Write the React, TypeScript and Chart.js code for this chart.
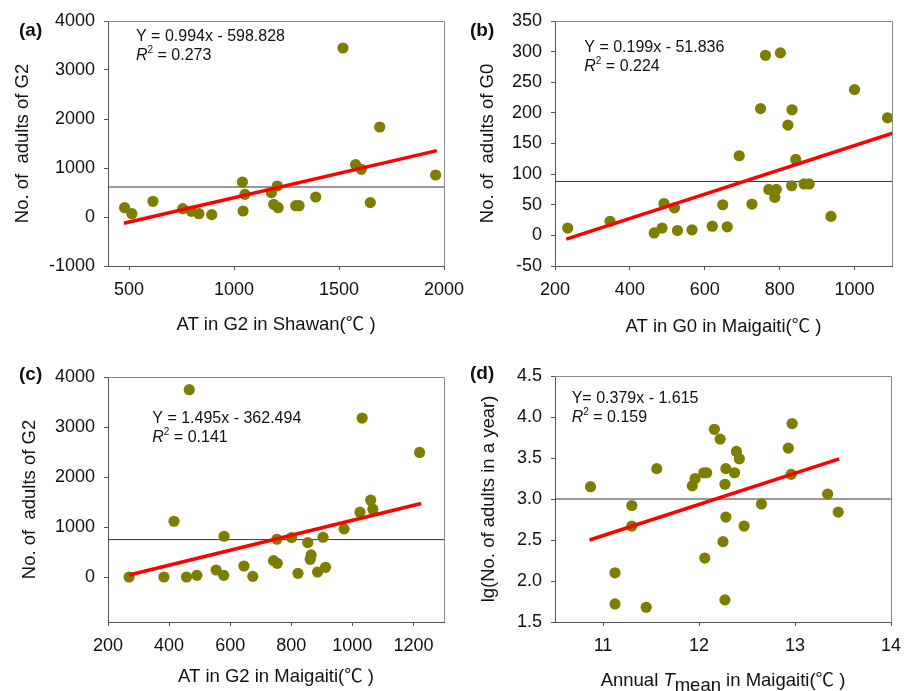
import React, { useEffect, useRef } from 'react';
import { Chart, registerables } from 'chart.js';

Chart.register(...registerables);

const W = 912;
const H = 691;
const FONT = "'Liberation Sans', Arial, Helvetica, 'Noto Sans CJK SC', sans-serif";
const TEXT = '#111111';
const AXIS = '#555555';
const FRAME = '#8a8a8a';
const DOT = '#7d7d00';
const FIT = '#ff0000';
const MEAN = '#333333';

// ---------- Panel (a) ----------
const aX = [479, 514, 614, 756, 797, 833, 894, 1040, 1043, 1052, 1178, 1189, 1210, 1206, 1294, 1310, 1389, 1519, 1579, 1606, 1649, 1694, 1960];
const aY = [190, 68, 320, 170, 116, 68, 48, 714, 122, 462, 497, 258, 190, 633, 231, 231, 408, 3449, 1068, 973, 293, 1837, 857];
const aFitX = [476, 1966];
const aFitY = [-126, 1355];
const aMean = 612;
const aXTicks = [500, 1000, 1500, 2000];
const aYTicks = [-1000, 0, 1000, 2000, 3000, 4000];

// ---------- Panel (b) ----------
const bX = [234, 347, 465, 486, 491, 519, 527, 566, 620, 648, 660, 692, 726, 749, 762, 771, 787, 791, 802, 822, 833, 832, 843, 865, 879, 937, 1000, 1088];
const bY = [12, 23, 4, 12, 52, 45, 8, 9, 15, 50, 14, 130, 51, 207, 294, 75, 62, 75, 298, 180, 205, 81, 124, 84, 84, 31, 238, 192];
const bFitX = [230, 1102];
const bFitY = [-6, 167];
const bMean = 88;
const bXTicks = [200, 400, 600, 800, 1000];
const bYTicks = [-50, 0, 50, 100, 150, 200, 250, 300, 350];

// ---------- Panel (c) ----------
const cX = [269, 383, 416, 457, 466, 491, 554, 579, 580, 645, 674, 742, 754, 753, 801, 822, 854, 865, 862, 886, 904, 912, 973, 1025, 1032, 1060, 1067, 1220];
const cY = [0, 0, 1115, 0, 3746, 33, 140, 33, 815, 220, 13, 327, 274, 755, 788, 73, 688, 441, 354, 100, 795, 194, 962, 1296, 3179, 1536, 1356, 2491];
const cFitX = [269, 1225];
const cFitY = [40, 1469];
const cMean = 748;
const cXTicks = [200, 400, 600, 800, 1000, 1200];
const cYTicks = [0, 1000, 2000, 3000, 4000];

// ---------- Panel (d) ----------
const dX = [10.87, 11.125, 11.125, 11.3, 11.3, 11.45, 11.56, 11.93, 11.96, 12.05, 12.08, 12.06, 12.16, 12.22, 12.25, 12.27, 12.28, 12.28, 12.27, 12.37, 12.39, 12.42, 12.47, 12.65, 12.93, 12.97, 12.96, 13.34, 13.45];
const dY = [3.15, 2.1, 1.72, 2.92, 2.67, 1.68, 3.37, 3.16, 3.25, 3.32, 3.32, 2.28, 3.85, 3.73, 2.48, 3.18, 2.78, 3.37, 1.77, 3.32, 3.58, 3.49, 2.67, 2.94, 3.62, 3.92, 3.3, 3.06, 2.84];
const dFitX = [10.86, 13.46];
const dFitY = [2.5, 3.49];
const dMean = 3.0;
const dXTicks = [11, 12, 13, 14];
const dYTicks = [1.5, 2.0, 2.5, 3.0, 3.5, 4.0, 4.5];

type Seg = { t: string; italic?: boolean; bold?: boolean; size?: number; dy?: number };

interface PanelCfg {
  tag: string;
  xs: number[];
  ys: number[];
  fitX: number[];
  fitY: number[];
  mean: number;
  xMin: number;
  xMax: number;
  xTicks: number[];
  yMin: number;
  yMax: number;
  yTicks: number[];
  yDec: number;
  yTitle: string;
  yTitlePad: number;
  xTitle: Seg[];
  xTitleY: number;
  eq: string;
  r2: string;
  box: [number, number, number, number];
  area: [number, number, number, number];
  tagPos: [number, number];
  eqPos: [number, number, number];
}

const TS = 18.5;

const panels: PanelCfg[] = [
  {
    tag: '(a)', xs: aX, ys: aY, fitX: aFitX, fitY: aFitY, mean: aMean,
    xMin: 400, xMax: 2000, xTicks: aXTicks, yMin: -1000, yMax: 4000, yTicks: aYTicks, yDec: 0,
    yTitle: 'No. of  adults of G2', yTitlePad: 12.2,
    xTitle: [{ t: 'AT in G2 in Shawan(℃ )' }], xTitleY: 330,
    eq: 'Y = 0.994x - 598.828', r2: ' = 0.273',
    box: [0, 0, 456, 340], area: [108, 21, 444, 266],
    tagPos: [19, 35.5], eqPos: [136, 40.7, 60],
  },
  {
    tag: '(b)', xs: bX, ys: bY, fitX: bFitX, fitY: bFitY, mean: bMean,
    xMin: 200, xMax: 1100, xTicks: bXTicks, yMin: -50, yMax: 350, yTicks: bYTicks, yDec: 0,
    yTitle: 'No. of  adults of G0', yTitlePad: 21.2,
    xTitle: [{ t: 'AT in G0 in Maigaiti(℃ )' }], xTitleY: 331.7,
    eq: 'Y = 0.199x - 51.836', r2: ' = 0.224',
    box: [456, 0, 912, 340], area: [555, 21, 892, 266],
    tagPos: [470, 35.5], eqPos: [584.3, 52.3, 70.7],
  },
  {
    tag: '(c)', xs: cX, ys: cY, fitX: cFitX, fitY: cFitY, mean: cMean,
    xMin: 200, xMax: 1300, xTicks: cXTicks, yMin: -900, yMax: 4000, yTicks: cYTicks, yDec: 0,
    yTitle: 'No. of  adults of G2', yTitlePad: 18.4,
    xTitle: [{ t: 'AT in G2 in Maigaiti(℃ )' }], xTitleY: 682.3,
    eq: 'Y = 1.495x - 362.494', r2: ' = 0.141',
    box: [0, 340, 456, 691], area: [108, 377, 444, 622],
    tagPos: [19, 380.3], eqPos: [152.3, 422.7, 441.7],
  },
  {
    tag: '(d)', xs: dX, ys: dY, fitX: dFitX, fitY: dFitY, mean: dMean,
    xMin: 10.5, xMax: 14, xTicks: dXTicks, yMin: 1.5, yMax: 4.5, yTicks: dYTicks, yDec: 1,
    yTitle: 'lg(No. of adults in a year)', yTitlePad: 21.4,
    xTitle: [
      { t: 'Annual ' },
      { t: 'T', italic: true },
      { t: 'mean', dy: 4.5 },
      { t: ' in Maigaiti(℃ )' },
    ],
    xTitleY: 686,
    eq: 'Y= 0.379x - 1.615', r2: ' = 0.159',
    box: [456, 340, 912, 691], area: [555, 376, 891, 622],
    tagPos: [470, 379], eqPos: [571.7, 403.3, 422],
  },
];

function fontOf(s: Seg, defSize: number) {
  return `${s.italic ? 'italic ' : ''}${s.bold ? 'bold ' : ''}${s.size ?? defSize}px ${FONT}`;
}

function drawSegs(ctx: CanvasRenderingContext2D, segs: Seg[], x: number, y: number, center: boolean, defSize: number) {
  let total = 0;
  for (const s of segs) {
    ctx.font = fontOf(s, defSize);
    total += ctx.measureText(s.t).width;
  }
  let cx = center ? x - total / 2 : x;
  ctx.textAlign = 'left';
  ctx.textBaseline = 'alphabetic';
  for (const s of segs) {
    ctx.font = fontOf(s, defSize);
    ctx.fillText(s.t, cx, y + (s.dy ?? 0));
    cx += ctx.measureText(s.t).width;
  }
}

function makeTextPlugin(cfg: PanelCfg) {
  return {
    id: 'panelText',
    afterDraw(chart: Chart) {
      const ctx = chart.ctx;
      const ca = chart.chartArea;
      ctx.save();
      // top and right frame
      ctx.strokeStyle = FRAME;
      ctx.lineWidth = 1;
      ctx.beginPath();
      ctx.moveTo(ca.left, Math.round(ca.top) + 0.5);
      ctx.lineTo(Math.round(ca.right) + 0.5, Math.round(ca.top) + 0.5);
      ctx.lineTo(Math.round(ca.right) + 0.5, ca.bottom);
      ctx.stroke();

      ctx.fillStyle = TEXT;
      // panel tag
      drawSegs(ctx, [{ t: cfg.tag, bold: true, size: 19 }], cfg.tagPos[0], cfg.tagPos[1], false, 19);
      // equation
      drawSegs(ctx, [{ t: cfg.eq, size: 16 }], cfg.eqPos[0], cfg.eqPos[1], false, 16);
      drawSegs(
        ctx,
        [
          { t: 'R', italic: true, size: 16 },
          { t: '2', size: 10, dy: -7 },
          { t: cfg.r2, size: 16 },
        ],
        cfg.eqPos[0],
        cfg.eqPos[2],
        false,
        16
      );
      // x axis title
      drawSegs(ctx, cfg.xTitle, (ca.left + ca.right) / 2, cfg.xTitleY, true, TS);
      ctx.restore();
    },
  };
}

function Panel({ cfg }: { cfg: PanelCfg }) {
  const ref = useRef<HTMLCanvasElement>(null);
  useEffect(() => {
    if (!ref.current) return;
    const [bl, , , bb] = cfg.box;
    const [al, at, ar, ab] = cfg.area;
    const points = cfg.xs.map((x, i) => ({ x, y: cfg.ys[i] }));
    const fit = cfg.fitX.map((x, i) => ({ x, y: cfg.fitY[i] }));
    const meanLine = [
      { x: cfg.xMin, y: cfg.mean },
      { x: cfg.xMax, y: cfg.mean },
    ];
    const tickFont = { family: FONT, size: 18 };
    const chart = new Chart(ref.current, {
      type: 'scatter',
      data: {
        datasets: [
          {
            type: 'line',
            data: fit,
            borderColor: FIT,
            borderWidth: 3.5,
            pointRadius: 0,
            fill: false,
            order: 0,
          } as any,
          {
            type: 'scatter',
            data: points,
            backgroundColor: DOT,
            borderWidth: 0,
            pointRadius: 5.6,
            order: 2,
          } as any,
          {
            type: 'line',
            data: meanLine,
            borderColor: MEAN,
            borderWidth: 1,
            pointRadius: 0,
            fill: false,
            order: 3,
          } as any,
        ],
      },
      options: {
        responsive: false,
        animation: false,
        events: [],
        layout: {
          padding: { left: bl, top: at, right: W - ar, bottom: H - bb },
        },
        plugins: {
          legend: { display: false },
          tooltip: { enabled: false },
        },
        scales: {
          x: {
            type: 'linear',
            position: 'bottom',
            min: cfg.xMin,
            max: cfg.xMax,
            afterBuildTicks: (s: any) => {
              s.ticks = cfg.xTicks.map((v) => ({ value: v }));
            },
            afterFit: (s: any) => {
              s.height = bb - ab;
              s.paddingLeft = 0;
              s.paddingRight = 0;
              s.paddingTop = 0;
              s.paddingBottom = 0;
            },
            grid: {
              drawOnChartArea: false,
              drawTicks: true,
              tickLength: 4,
              color: AXIS,
              tickColor: AXIS,
            },
            border: { display: true, color: AXIS, width: 1 },
            ticks: {
              font: tickFont,
              color: TEXT,
              padding: 9,
              autoSkip: false,
              maxRotation: 0,
              callback: (v: any) => String(v),
            },
            title: { display: false },
          },
          y: {
            type: 'linear',
            position: 'left',
            min: cfg.yMin,
            max: cfg.yMax,
            afterBuildTicks: (s: any) => {
              s.ticks = cfg.yTicks.map((v) => ({ value: v }));
            },
            afterFit: (s: any) => {
              s.width = al - bl;
              s.paddingLeft = 0;
              s.paddingRight = 0;
              s.paddingTop = 0;
              s.paddingBottom = 0;
            },
            grid: {
              drawOnChartArea: false,
              drawTicks: true,
              tickLength: 4,
              color: AXIS,
              tickColor: AXIS,
            },
            border: { display: true, color: AXIS, width: 1 },
            ticks: {
              font: tickFont,
              color: TEXT,
              padding: 9,
              autoSkip: false,
              callback: (v: any) => (cfg.yDec ? Number(v).toFixed(cfg.yDec) : String(v)),
            },
            title: {
              display: true,
              text: cfg.yTitle,
              color: TEXT,
              font: { family: FONT, size: TS },
              padding: { top: cfg.yTitlePad, bottom: 0 },
            },
          },
        },
      },
      plugins: [makeTextPlugin(cfg)],
    } as any);
    return () => chart.destroy();
  }, [cfg]);
  return (
    <canvas
      ref={ref}
      width={W}
      height={H}
      style={{ position: 'absolute', left: 0, top: 0, width: W, height: H }}
    />
  );
}

export default function App() {
  return (
    <div style={{ position: 'absolute', left: 0, top: 0, width: W, height: H, background: '#ffffff' }}>
      {panels.map((p) => (
        <Panel key={p.tag} cfg={p} />
      ))}
    </div>
  );
}
